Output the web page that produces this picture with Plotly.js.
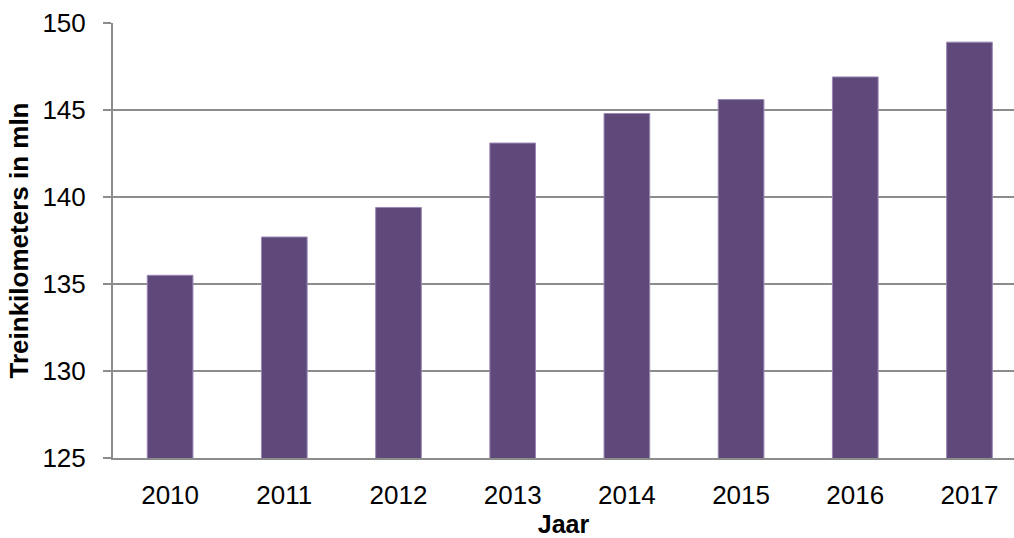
<!DOCTYPE html>
<html>
<head>
<meta charset="utf-8">
<script src="https://cdn.plot.ly/plotly-3.0.1.min.js"></script>
<style>
  html, body { margin: 0; padding: 0; background: #ffffff; }
  #chart { width: 1014px; height: 538px; }
</style>
</head>
<body>
<div id="chart"></div>
<script>
const years = ["2010", "2011", "2012", "2013", "2014", "2015", "2016", "2017"];
const treinkilometers = [135.5, 137.7, 139.4, 143.1, 144.8, 145.6, 146.9, 148.9];
const yTicks = [125, 130, 135, 140, 145, 150];

const FONT = "Liberation Sans, Arial, sans-serif";

const trace = {
  type: "bar",
  x: years,
  y: treinkilometers,
  width: 0.4,
  marker: { color: "#5f497a", line: { color: "#9a88b3", width: 1 } },
  hoverinfo: "x+y"
};

const layout = {
  width: 1014,
  height: 538,
  margin: { l: 113, r: 0, t: 23, b: 80, pad: 0 },
  paper_bgcolor: "#ffffff",
  plot_bgcolor: "#ffffff",
  showlegend: false,
  font: { family: FONT, size: 24, color: "#000000" },
  xaxis: {
    type: "category",
    range: [-0.5, 7.39],
    showgrid: false,
    showline: true,
    linecolor: "#8c8c8c",
    linewidth: 2,
    ticks: "",
    tickfont: { family: FONT, size: 26, color: "#000000" },
    ticklabelstandoff: 13,
    title: { text: "<b>Jaar</b>", font: { family: FONT, size: 25, color: "#000000" }, standoff: 8 },
    automargin: false,
    fixedrange: true
  },
  yaxis: {
    range: [125, 150],
    tickvals: yTicks,
    ticktext: yTicks.map(String),
    showgrid: true,
    gridcolor: "#8c8c8c",
    gridwidth: 2,
    zeroline: false,
    showline: true,
    linecolor: "#8c8c8c",
    linewidth: 2,
    ticks: "outside",
    ticklen: 8,
    tickwidth: 2,
    tickcolor: "#8c8c8c",
    tickfont: { family: FONT, size: 26, color: "#000000" },
    ticklabelstandoff: 12,
    automargin: true,
    title: { text: "<b>Treinkilometers in mln</b>", font: { family: FONT, size: 26, color: "#000000" }, standoff: 6 },
    fixedrange: true
  },
  bargap: 0.6
};

Plotly.newPlot("chart", [trace], layout, { displayModeBar: false, staticPlot: true });
</script>
</body>
</html>
